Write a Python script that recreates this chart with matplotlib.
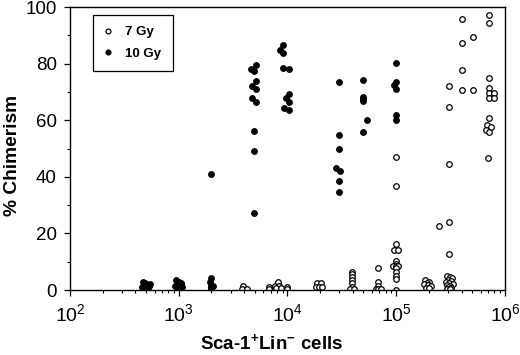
import matplotlib
matplotlib.use('Agg')
import matplotlib.pyplot as plt
from matplotlib.lines import Line2D

plt.rcParams['font.family'] = ['Liberation Sans', 'DejaVu Sans']
plt.rcParams['mathtext.fontset'] = 'custom'
plt.rcParams['mathtext.rm'] = 'Liberation Sans'
plt.rcParams['mathtext.bf'] = 'Liberation Sans:bold'

# 10 Gy recipients (filled circles): cell dose, % chimerism
cells_10gy = [470, 490, 500, 510, 530, 480, 520, 500, 540, 460,
              950, 1000, 1050, 980, 1020, 930, 1070, 1000, 960, 1040,
              2000, 2000, 1950, 2050, 2000, 2000,
              5085, 4645, 4970, 5085, 4680, 5085, 4750, 5085, 4970, 4970, 4900,
              9190, 8450, 9190, 9190, 10280, 10430, 9730, 10280, 9380, 10280,
              30000, 30000, 30000, 28000, 30500, 30000, 30000,
              49000, 49000, 49000, 49000, 54000, 49000,
              99000, 99000, 95000, 99000, 99000, 99000]
chim_10gy = [2.8, 2.5, 2.0, 1.8, 1.5, 1.0, 0.8, 0.5, 2.2, 1.2,
             3.5, 3.0, 2.5, 2.0, 1.8, 1.5, 1.0, 0.8, 0.3, 2.2,
             41.0, 4.1, 2.9, 1.5, 1.2, 0.3,
             79.5, 78.0, 77.4, 73.9, 72.1, 70.9, 67.7, 66.5, 56.2, 49.2, 27.1,
             86.6, 85.0, 83.8, 78.5, 78.1, 69.2, 67.7, 66.5, 64.2, 63.8,
             73.6, 54.8, 49.7, 43.0, 42.2, 38.6, 34.5,
             74.2, 68.3, 67.5, 66.7, 60.2, 55.9,
             80.1, 73.6, 72.5, 71.2, 62.0, 60.0]

# 7 Gy recipients (open circles)
cells_7gy = [2000,
             3900, 3800, 4200,
             6800, 6800, 7600, 8200, 8300, 7900, 8700, 10000, 10000,
             18800, 20200, 18300, 19400, 20800,
             39000, 39000, 39000, 39000, 39000, 39000, 37500, 40500,
             68500, 68500, 68500, 65000, 68500, 72000,
             99000, 99000, 99000, 95000, 103000, 99000, 99000, 94000, 99000, 104000,
             99000, 99000, 99000, 99000, 99000,
             185000, 200000, 192000, 180000, 195000, 208000, 188000, 202000,
             248000,
             306000, 306000, 306000, 306000, 306000,
             290000, 310000, 325000, 300000, 318000, 285000, 305000, 330000,
             295000, 312000, 300000, 322000, 290000, 310000,
             401000, 401000, 401000, 401000,
             505000, 505000,
             713000, 713000, 713000, 713000, 713000, 790000, 713000, 790000,
             713000, 680000, 740000, 665000, 713000, 700000]
chim_7gy = [1.6,
            1.5, 0.5, 0.5,
            1.2, 0.4, 1.5, 2.9, 1.5, 0.6, 0.6, 1.2, 0.4,
            2.4, 2.4, 1.0, 1.0, 1.0,
            6.5, 5.5, 4.5, 3.5, 2.4, 1.2, 0.5, 0.5,
            7.9, 2.9, 1.5, 0.3, 0.3, 0.3,
            47.1, 36.7, 16.3, 14.3, 14.3, 10.2, 9.2, 8.5, 8.5, 8.5,
            7.8, 6.2, 5.0, 3.8, 0.0,
            3.6, 3.0, 2.5, 2.0, 1.8, 1.5, 0.8, 0.8,
            22.7,
            72.1, 64.8, 44.4, 23.9, 12.7,
            5.0, 4.5, 4.2, 3.5, 3.2, 3.0, 2.5, 2.0,
            1.8, 1.5, 1.0, 0.8, 0.5, 0.3,
            95.8, 87.4, 77.8, 70.6,
            89.3, 70.6,
            97.2, 94.3, 74.8, 71.5, 69.5, 69.5, 68.0, 68.0,
            60.7, 58.3, 57.5, 56.5, 55.7, 46.7]

fig = plt.figure(figsize=(5.2, 3.55), dpi=100)
ax = fig.add_axes([0.1346, 0.183, 0.8365, 0.797])

ax.plot(cells_7gy, chim_7gy, 'o', ms=4.0, mfc='white', mec='black', mew=0.9, ls='none')
ax.plot(cells_10gy, chim_10gy, 'o', ms=4.0, mfc='black', mec='black', mew=0.9, ls='none')

ax.set_xscale('log')
ax.set_xlim(1e2, 1e6)
ax.set_ylim(0, 100)
ax.set_yticks(range(0, 101, 20))
ax.set_yticks(range(10, 100, 20), minor=True)
ax.tick_params(which='major', direction='out', length=4.5, width=0.9, colors='black')
ax.tick_params(which='minor', direction='out', length=2.5, width=0.8)
ax.tick_params(axis='y', which='major', labelsize=13.5, pad=5)
ax.tick_params(axis='x', which='major', labelsize=14, pad=5)
for s in ax.spines.values():
    s.set_linewidth(1.0)

ax.set_ylabel('% Chimerism', fontsize=13.8, fontweight='bold')
ax.yaxis.set_label_coords(-0.113, 0.477)
fig.text(272 / 520, 1 - 350 / 355, r'Sca-1$^{\mathbf{+}}$Lin$^{\mathbf{-}}$ cells',
         ha='center', va='baseline', fontsize=13.5, fontweight='bold')

handles = [Line2D([], [], marker='o', ls='none', ms=3.5, mfc='white', mec='black', mew=0.9),
           Line2D([], [], marker='o', ls='none', ms=3.5, mfc='black', mec='black', mew=0.9)]
leg = ax.legend(handles, ['7 Gy', '10 Gy'], loc='upper left', bbox_to_anchor=(0.053, 0.972),
                borderaxespad=0, fancybox=False, edgecolor='black', framealpha=1,
                prop={'weight': 'bold', 'size': 9.5}, handletextpad=1.0, handlelength=0.6,
                borderpad=0.85, labelspacing=0.7)
leg.get_frame().set_linewidth(0.9)

fig.savefig('out.png', dpi=100)
